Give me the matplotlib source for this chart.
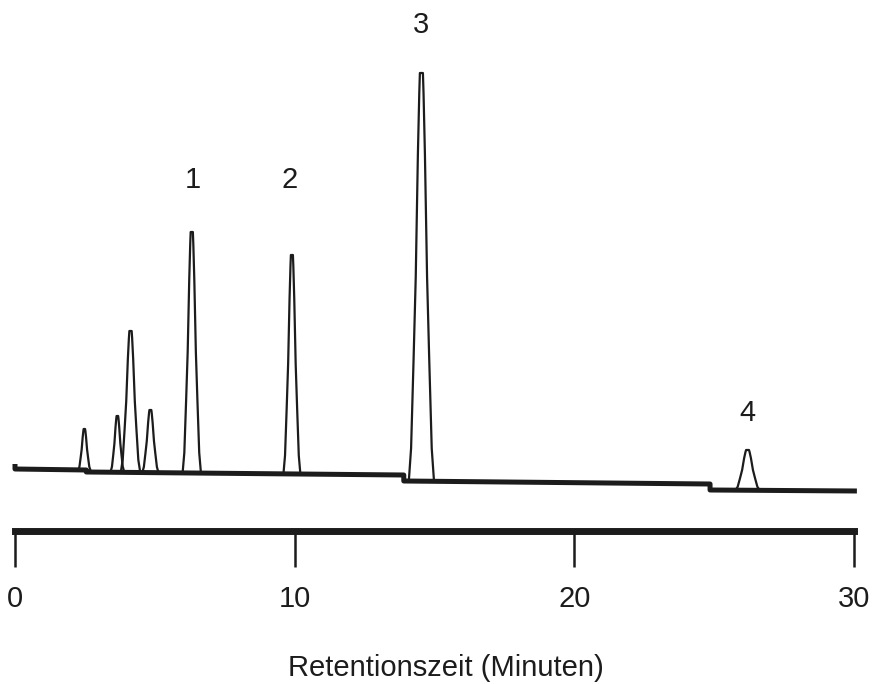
import numpy as np
import matplotlib
matplotlib.use('Agg')
import matplotlib.pyplot as plt

plt.rcParams['font.family'] = ['Liberation Sans', 'DejaVu Sans']

# peaks: retention time (min), height above local baseline, base width (min), baseline level
peak_rt = [2.48, 3.66, 4.13, 4.84, 6.32, 9.90, 14.53, 26.19]
peak_height = [41, 55, 140, 62, 240, 218, 408, 40]
peak_width = [0.43, 0.47, 0.68, 0.57, 0.65, 0.60, 0.90, 0.86]
peak_base = [0, -1, -1, -2, -2, -3, -11, -20]

# peak outline template (fraction of height, fraction of half width)
profile_level = [0.0, 0.08, 0.3, 0.5, 0.8, 0.95, 1.0]
profile_halfwidth = [1.0, 0.82, 0.62, 0.45, 0.28, 0.17, 0.12]

# stepped baseline of the recorder trace
baseline_t = [0.0, 0.0, 2.55, 2.55, 13.9, 13.9, 24.85, 24.85, 30.1]
baseline_y = [6, 1, 0, -2, -5, -11, -14, -20, -21]

# labelled peaks
label_text = ['1', '2', '3', '4']
label_t = [6.35, 9.83, 14.53, 26.19]
label_y = [290, 290, 445, 57]

ticks = [0, 10, 20, 30]
ink = '#1c1c1c'

fig = plt.figure(figsize=(8.73, 6.84), dpi=100)
bottom = (684 - 531) / 684
ax = fig.add_axes([0, bottom, 1, 1 - bottom])

ax.plot(baseline_t, baseline_y, color=ink, lw=3.6, solid_capstyle='butt', clip_on=False)

lev = np.array(profile_level)
hwf = np.array(profile_halfwidth)
for rt, h, w, b in zip(peak_rt, peak_height, peak_width, peak_base):
    xs = np.concatenate([rt - hwf * w / 2, (rt + hwf * w / 2)[::-1]])
    ys = np.concatenate([b + lev * h, (b + lev * h)[::-1]])
    ax.plot(xs, ys, color=ink, lw=1.6)

for s, x, y in zip(label_text, label_t, label_y):
    ax.text(x, y, s, ha='center', va='center', fontsize=21, color=ink)

px_per_min = 27.97
ax.set_xlim(-15 / px_per_min, (873 - 15) / px_per_min)
ax.set_ylim(-61, 470)
for sp in ['top', 'left', 'right']:
    ax.spines[sp].set_visible(False)
ax.spines['bottom'].set_linewidth(5)
ax.spines['bottom'].set_color(ink)
ax.spines['bottom'].set_bounds(0, 30)
ax.set_yticks([])
ax.set_xticks(ticks)
ax.set_xticklabels([str(t) for t in ticks])
ax.tick_params(axis='x', direction='out', length=26, width=1.8, color=ink,
               labelsize=21, labelcolor=ink, pad=13)
ax.patch.set_visible(False)

fig.text(446 / 873, (684 - 676) / 684, 'Retentionszeit (Minuten)', ha='center',
         va='baseline', fontsize=21, color=ink)

fig.savefig('out.png', dpi=100)
